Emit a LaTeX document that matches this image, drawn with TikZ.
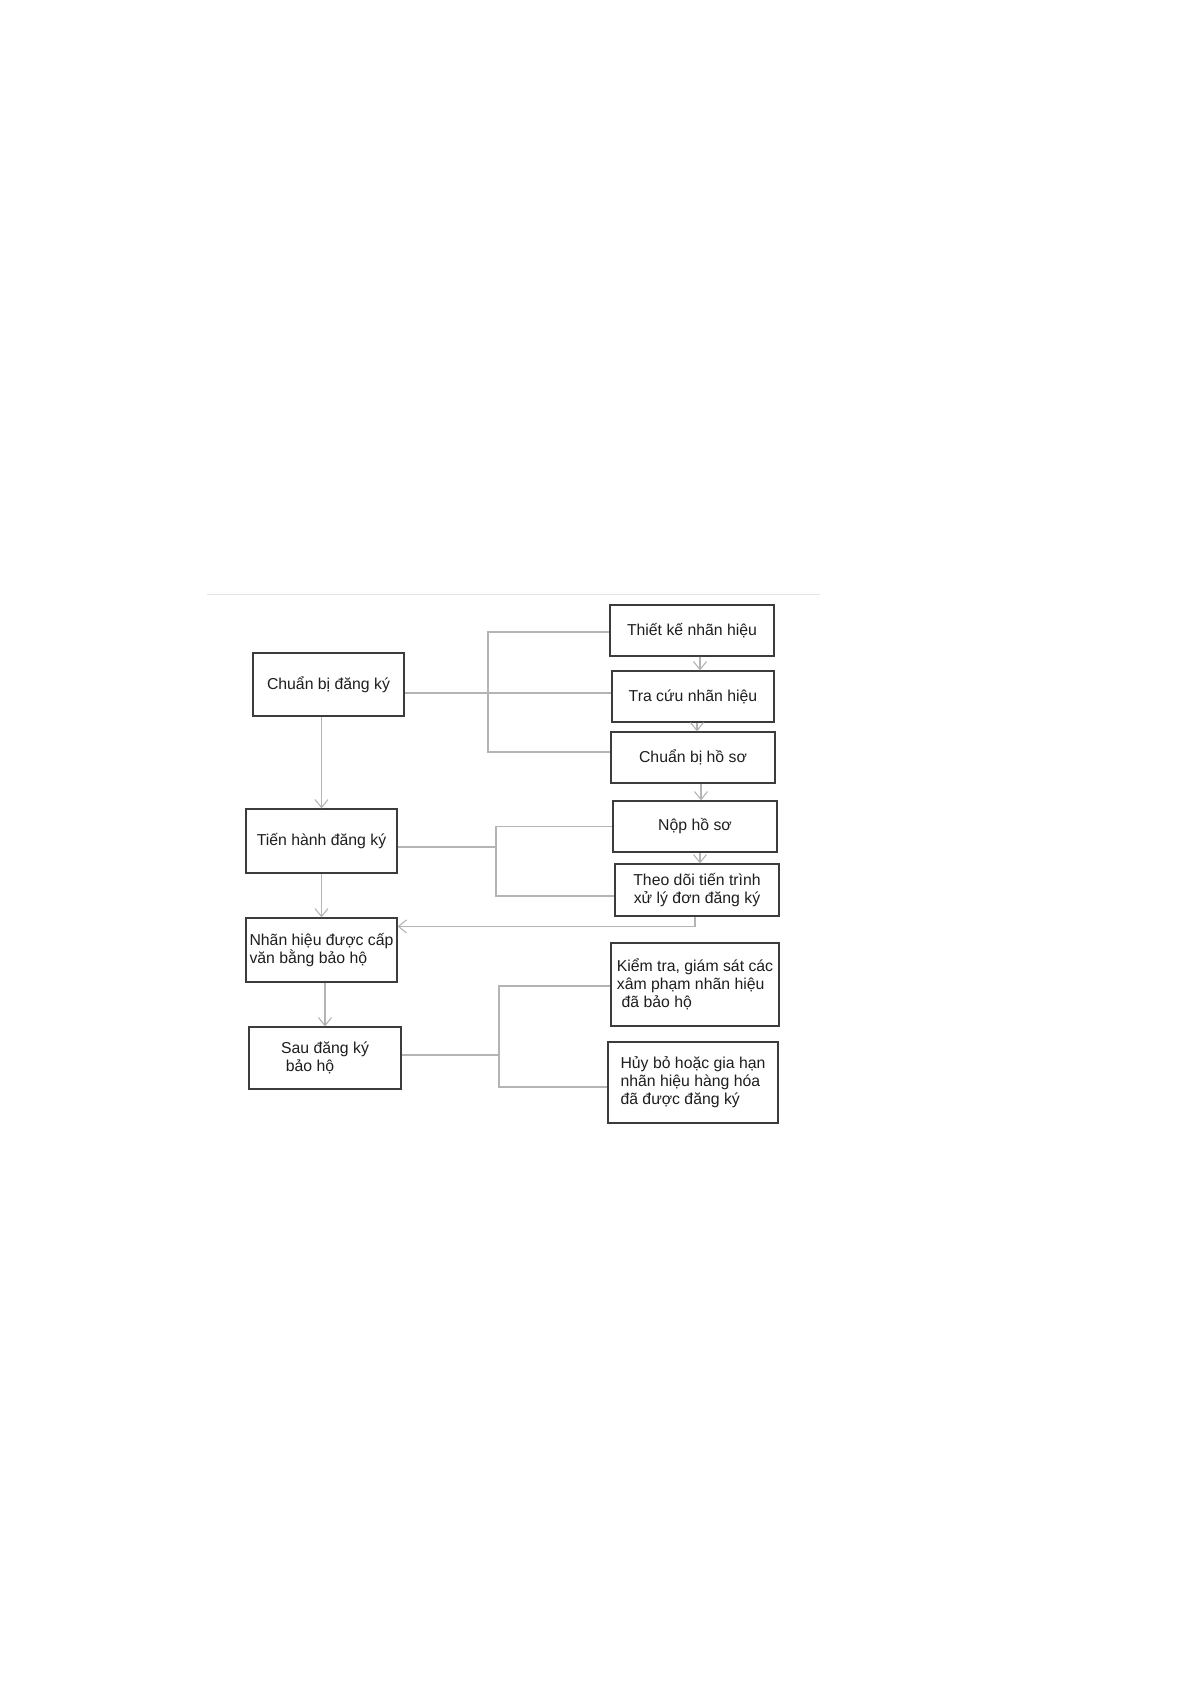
\documentclass[tikz,border=0pt]{standalone}
\usepackage{fontspec}
\setmainfont{Liberation Sans}
\usetikzlibrary{arrows.meta}
\definecolor{boxc}{HTML}{3C3C3C}
\definecolor{linec}{HTML}{B4B4B4}
\definecolor{topc}{HTML}{E4E4E4}
\definecolor{txtc}{HTML}{1E1E1E}
\begin{document}
\begin{tikzpicture}[x=1pt,y=-1pt,
  box/.style={draw=boxc,line width=1.2pt,inner sep=0pt,align=left,text=txtc,
    font=\fontsize{15.8pt}{18pt}\selectfont},
  conn/.style={draw=linec,line width=1.1pt},
  arr/.style={conn,-{Straight Barb[length=8pt,width=13pt]}}]
\useasboundingbox[fill=white] (0,0) rectangle (1191,1685);
\draw[topc,line width=1pt] (207,594) -- (820,594);

% left column
\node[box,minimum width=151pt,minimum height=63pt] (cb) at (328.5,684.5) {Chuẩn bị đăng ký};
\node[box,minimum width=151pt,minimum height=64pt] (tn) at (321.5,841) {Tiến hành đăng ký};
\node[box,minimum width=151pt,minimum height=64pt] (nh) at (321.5,950) {Nhãn hiệu được cấp\\văn bằng bảo hộ};
\node[box,minimum width=152pt,minimum height=62pt] (sau) at (325,1058) {Sau đăng ký\\\hspace*{0.3em}bảo hộ};

% right column
\node[box,minimum width=164pt,minimum height=51pt] (tk) at (692,630.5) {Thiết kế nhãn hiệu};
\node[box,minimum width=162pt,minimum height=51pt] (tc) at (693,696.5) {Tra cứu nhãn hiệu};
\node[box,minimum width=164pt,minimum height=51pt] (hs) at (693,757.5) {Chuẩn bị hồ sơ};
\node[box,minimum width=164pt,minimum height=51pt] (np) at (695,826.5) {Nộp hồ sơ};
\node[box,minimum width=164pt,minimum height=52pt,align=center] (td) at (697,890) {Theo dõi tiến trình\\xử lý đơn đăng ký};
\node[box,minimum width=168pt,minimum height=83pt] (kt) at (695,984.5) {Kiểm tra, giám sát các\\xâm phạm nhãn hiệu\\\hspace*{0.3em}đã bảo hộ};
\node[box,minimum width=170pt,minimum height=81pt] (hb) at (693,1082.5) {Hủy bỏ hoặc gia hạn\\nhãn hiệu hàng hóa\\đã được đăng ký};

% brackets
\coordinate (j1) at (488,693);
\draw[conn] (cb.east |- j1) -- (tc.west |- j1);
\draw[conn] ([yshift=-1.5pt]tk.west) -| (j1) |- ([yshift=5.5pt]hs.west);

\coordinate (j2) at (496,847);
\draw[conn] (tn.east |- j2) -- (j2);
\draw[conn] (np.west) -| (j2) |- ([yshift=-6pt]td.west);

\coordinate (j3) at (499,1055);
\draw[conn] (sau.east |- j3) -- (j3);
\draw[conn] ([yshift=-1.5pt]kt.west) -| (j3) |- ([yshift=-4.5pt]hb.west);

% arrows
\draw[arr] ([xshift=8pt]tk.south) -- ([xshift=8pt]tk.south |- tc.north);
\draw[arr] ([xshift=4pt]tc.south) -- ([xshift=4pt]tc.south |- hs.north);
\draw[arr] ([xshift=8pt]hs.south) -- ([xshift=8pt]hs.south |- np.north);
\draw[arr] ([xshift=5pt]np.south) -- ([xshift=5pt]np.south |- td.north);
\draw[arr] ([xshift=-2pt]td.south) |- ([yshift=-9pt]nh.north east);
\draw[arr] (tn.north |- cb.south) -- (tn.north);
\draw[arr] (tn.south) -- (nh.north);
\draw[arr] (sau.north |- nh.south) -- (sau.north);
\end{tikzpicture}
\end{document}
